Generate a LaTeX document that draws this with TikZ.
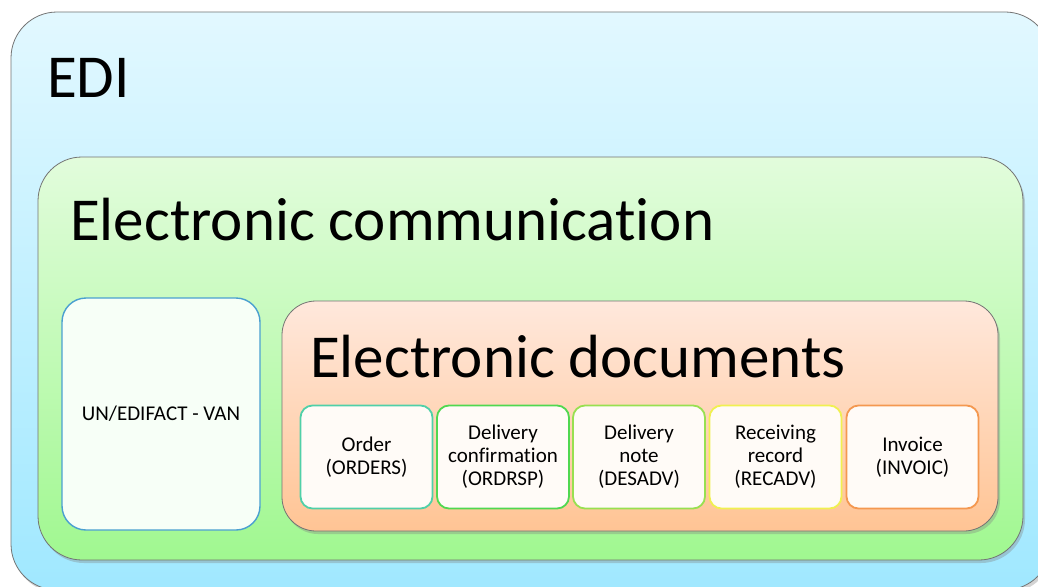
\documentclass[tikz,border=0pt]{standalone}
\usepackage{fontspec}
\setmainfont{Carlito}[Ligatures=NoCommon]
\usetikzlibrary{shadows}

\definecolor{edibot}{HTML}{A0E8FF}
\definecolor{editop}{HTML}{E2F8FF}
\definecolor{combot}{HTML}{A0F890}
\definecolor{comtop}{HTML}{E2FCDC}
\definecolor{docbot}{HTML}{FFC494}
\definecolor{doctop}{HTML}{FFE8DC}
\definecolor{vanline}{HTML}{4AA0D0}
\definecolor{c1}{HTML}{50D0A8}
\definecolor{c2}{HTML}{50D850}
\definecolor{c3}{HTML}{98E050}
\definecolor{c4}{HTML}{F0F050}
\definecolor{c5}{HTML}{F49850}

\begin{document}
\begin{tikzpicture}[x=1pt,y=-1pt]
\tikzstyle{layer}=[rectangle, draw=black!55, line width=0.8pt, drop shadow={shadow xshift=2pt, shadow yshift=-3pt, opacity=0.35}]
\tikzstyle{title}=[anchor=west, inner sep=0pt, font=\fontsize{61}{63}\selectfont]
\tikzstyle{doc}=[rectangle, rounded corners=12pt, line width=1.8pt, fill=white!97!orange, minimum width=132pt, minimum height=103pt, align=center, font=\fontsize{21}{23}\selectfont]

\useasboundingbox (0,0) rectangle (1038,586);

\node[layer, rounded corners=46pt, top color=editop, bottom color=edibot, minimum width=1040pt, minimum height=578pt] (edi) at (531,301) {};
\node[title] (editext) at (47,78) {EDI};

\node[layer, rounded corners=44pt, top color=comtop, bottom color=combot, minimum width=985pt, minimum height=403pt] (com) at (530.5,358.5) {};
\node[title] (comtext) at (70,220) {Electronic communication};

\node[rectangle, rounded corners=24pt, draw=vanline, line width=1.4pt, fill=green!3, minimum width=198pt, minimum height=232pt, font=\fontsize{21}{23}\selectfont] (van) at (161,414) {UN/EDIFACT - VAN};

\node[layer, rounded corners=34pt, top color=doctop, bottom color=docbot, minimum width=716pt, minimum height=230pt] (docs) at (640,416) {};
\node[title] (docstext) at (310,357) {Electronic documents};

\foreach \x/\c/\t [count=\i] in {366.5/c1/{Order\\(ORDERS)}, 503/c2/{Delivery\\confirmation\\(ORDRSP)}, 639/c3/{Delivery\\note\\(DESADV)}, 775.5/c4/{Receiving\\record\\(RECADV)}, 912.5/c5/{Invoice\\(INVOIC)}} {
\node[doc, draw=\c] (d\i) at (\x,457) {\t};
}

\end{tikzpicture}
\end{document}
